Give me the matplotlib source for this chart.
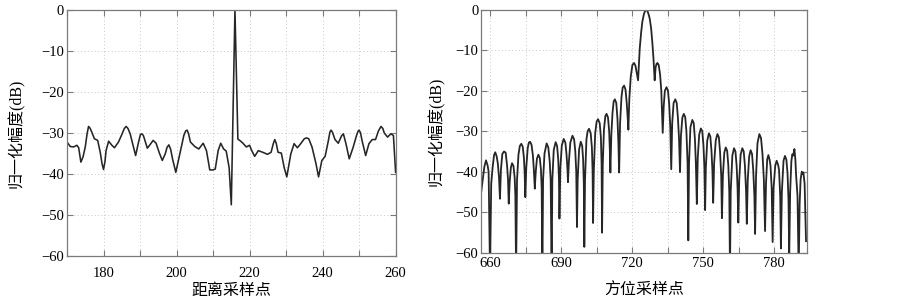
import matplotlib
matplotlib.use("Agg")
import matplotlib.pyplot as plt

# range profile (距离向)
range_x = [170.0, 170.9, 171.8, 172.7, 173.2, 173.8, 174.4, 175.0, 175.5, 175.9, 176.3,
           176.8, 177.5, 178.4, 179.1, 179.6, 180.0, 180.4, 180.7, 181.4, 182.3, 183.0,
           184.1, 185.0, 185.7, 186.2, 186.7, 187.3, 188.2, 188.8, 189.5, 190.1, 190.5,
           190.9, 191.2, 192.0, 192.7, 193.6, 194.4, 195.3, 196.1, 196.9, 197.4, 197.9,
           198.4, 198.9, 199.8, 200.9, 202.0, 202.5, 202.9, 203.3, 203.8, 205.0, 206.1,
           207.3, 208.2, 209.1, 210.0, 210.6, 211.4, 212.1, 212.9, 213.6, 214.4, 215.0,
           216.0, 216.8, 217.3, 218.2, 219.1, 220.0, 220.6, 221.4, 222.4, 223.6, 224.9,
           225.9, 226.5, 226.9, 227.3, 227.8, 228.7, 229.5, 230.2, 231.3, 232.2, 233.1,
           234.1, 235.0, 235.6, 236.2, 237.1, 238.2, 238.9, 239.8, 240.7, 241.6, 242.0,
           242.3, 242.7, 243.4, 244.3, 245.2, 245.7, 246.4, 247.3, 248.4, 249.3, 249.7,
           250.0, 250.4, 250.8, 251.8, 252.7, 253.6, 254.5, 255.3, 256.0, 256.5, 256.9,
           257.8, 258.7, 259.4, 260.0]
range_db = [-32.2, -33.3, -33.4, -33.0, -33.6, -37.1, -35.8, -33.4, -30.2, -28.4, -28.8,
            -29.8, -31.4, -31.8, -34.7, -37.5, -38.9, -37.0, -34.3, -32.0, -33.0, -33.6,
            -32.2, -30.4, -28.9, -28.4, -28.9, -30.2, -33.4, -35.5, -32.6, -30.4, -30.2,
            -30.6, -31.4, -33.7, -32.9, -31.8, -32.5, -34.9, -36.7, -35.1, -33.5, -32.9,
            -34.0, -36.3, -39.6, -35.1, -30.6, -29.5, -29.3, -30.2, -32.2, -33.3, -33.9,
            -32.5, -34.3, -39.0, -39.0, -38.8, -34.3, -32.5, -33.9, -34.4, -38.4, -47.5,
            0.0, -31.5, -31.8, -32.5, -33.4, -33.0, -34.3, -35.7, -34.3, -34.7, -35.2,
            -34.7, -32.6, -31.6, -32.5, -34.7, -34.9, -38.5, -40.7, -35.1, -32.6, -33.6,
            -32.5, -31.4, -31.2, -31.4, -33.4, -37.5, -40.7, -36.7, -35.7, -31.8, -29.8,
            -29.3, -29.8, -31.6, -32.5, -30.7, -30.2, -32.6, -36.3, -33.4, -30.6, -29.6,
            -29.3, -30.0, -31.8, -35.5, -32.6, -31.6, -31.6, -29.5, -28.4, -28.9, -30.0,
            -31.0, -30.2, -30.6, -39.6]

# azimuth profile (方位向)
azimuth_x = [656.0, 656.9, 657.6, 658.3, 659.0, 659.4, 660.0,
             660.5, 661.1, 661.7, 662.2, 662.8, 663.3, 663.8, 664.2,
             664.6, 665.2, 665.9, 666.6, 667.2, 667.6, 667.9,
             668.3, 668.8, 669.3, 669.9, 670.4, 670.7, 671.0,
             671.4, 672.0, 672.6, 673.2, 673.8, 674.3, 674.6, 674.9,
             675.3, 675.9, 676.4, 676.9, 677.5, 678.1, 678.5, 678.9,
             679.3, 679.8, 680.4, 681.0, 681.5, 681.8, 682.1,
             682.4, 683.0, 683.9, 684.6, 685.2, 685.6, 686.0,
             686.3, 686.9, 687.7, 688.3, 688.8, 689.1, 689.3,
             689.7, 690.3, 691.1, 691.8, 692.3, 692.7, 692.9,
             693.3, 693.9, 694.8, 695.5, 696.0, 696.4, 696.7,
             697.0, 697.6, 698.3, 698.9, 699.3, 699.6, 699.8,
             700.1, 700.7, 701.2, 701.8, 702.5, 703.0, 703.3, 703.5,
             703.8, 704.4, 705.0, 705.6, 706.3, 706.8, 707.1, 707.3,
             707.6, 708.1, 708.7, 709.2, 709.8, 710.3, 710.6, 710.8,
             711.2, 711.7, 712.2, 712.7, 713.3, 713.8, 714.2, 714.5,
             714.9, 715.5, 716.0, 716.6, 717.2, 717.7, 718.1, 718.4,
             718.8, 719.4, 720.1, 720.8, 721.4, 721.9, 722.5,
             723.2, 723.8, 724.3, 725.0, 725.6, 726.0, 726.5, 727.0, 727.4, 728.0, 728.5,
             729.0, 729.5,
             729.9, 730.3, 730.7, 731.2, 731.8, 732.3, 732.9,
             733.3, 733.8, 734.5, 735.1, 735.6, 736.1, 736.5,
             736.9, 737.5, 738.2, 738.8, 739.3, 739.8, 740.2,
             740.6, 741.2, 741.8, 742.4, 742.9, 743.4, 743.7,
             744.0, 744.6, 745.4, 746.0, 746.5, 746.9, 747.3,
             747.7, 748.3, 749.0, 749.6, 750.1, 750.5, 750.8,
             751.1, 751.7, 752.4, 753.0, 753.5, 753.9, 754.2,
             754.6, 755.3, 756.0, 756.6, 757.1, 757.6, 757.9,
             758.3, 758.9, 759.5, 760.1, 760.6, 761.0, 761.3,
             761.6, 762.3, 763.0, 763.6, 764.1, 764.5, 764.8,
             765.2, 765.8, 766.5, 767.1, 767.6, 768.1, 768.4,
             768.8, 769.4, 770.0, 770.6, 771.1, 771.6, 771.9,
             772.3, 772.9, 773.7, 774.4, 775.0, 775.6, 776.1,
             776.5, 777.0, 777.5, 778.0, 778.4, 778.9, 779.3,
             779.7, 780.4, 781.0, 781.6, 782.0, 782.5, 782.8,
             783.2, 783.9, 784.5, 785.1, 785.6, 786.0, 786.3,
             786.7, 787.2, 787.6, 788.0, 788.5, 788.9, 789.2, 789.8, 790.3,
             790.7, 791.1, 791.6, 792.0, 792.3, 792.8, 793.4]
azimuth_db = [-46.3, -42.2, -38.8, -37.2, -38.5, -40.0, -65.0,
              -43.0, -38.9, -35.9, -35.2, -36.2, -38.0, -41.5, -46.7,
              -39.5, -35.6, -35.0, -35.3, -38.5, -42.0, -47.9,
              -42.5, -39.0, -37.9, -38.6, -41.5, -46.0, -65.0,
              -42.0, -35.8, -33.6, -33.1, -33.8, -36.5, -40.0, -46.3,
              -39.0, -34.2, -32.8, -32.6, -33.3, -36.0, -39.5, -44.2,
              -40.0, -36.8, -35.8, -36.6, -39.5, -44.0, -65.0,
              -42.0, -35.5, -33.0, -34.0, -37.5, -42.0, -65.0,
              -42.0, -34.6, -32.7, -33.6, -37.0, -42.0, -51.6,
              -39.0, -33.5, -31.9, -32.8, -35.8, -39.5, -42.6,
              -37.5, -32.8, -31.1, -32.0, -35.0, -40.0, -53.7,
              -42.0, -34.5, -32.6, -33.6, -37.0, -43.0, -58.6,
              -42.0, -32.0, -30.0, -29.4, -30.5, -34.0, -40.0, -52.7,
              -40.0, -30.5, -27.6, -27.0, -28.0, -31.5, -38.0, -55.1,
              -38.0, -29.5, -26.2, -25.7, -26.6, -30.0, -35.0, -40.2,
              -31.0, -25.5, -22.6, -22.1, -23.0, -27.0, -33.0, -40.2,
              -28.0, -21.5, -19.2, -18.7, -19.7, -23.0, -26.5, -29.6,
              -22.0, -16.5, -13.6, -13.1, -13.8, -15.5, -17.4,
              -9.5, -5.5, -2.9, -0.9, -0.1, 0.0, -0.3, -1.2, -2.1, -4.5, -7.9,
              -12.0, -17.4,
              -14.2, -13.3, -13.1, -13.6, -16.0, -20.0, -30.4,
              -24.0, -20.0, -19.1, -19.9, -23.0, -29.0, -39.4,
              -28.0, -23.0, -22.1, -23.0, -26.5, -32.0, -40.1,
              -31.0, -26.6, -25.7, -26.5, -30.0, -38.0, -57.0,
              -38.0, -29.0, -27.2, -28.0, -32.0, -38.0, -48.0,
              -36.5, -30.8, -29.3, -30.0, -33.5, -39.0, -49.5,
              -39.0, -32.3, -30.5, -31.3, -35.0, -40.0, -47.7,
              -38.0, -32.2, -30.7, -31.5, -35.0, -41.0, -51.5,
              -41.0, -35.3, -34.0, -34.8, -38.5, -45.0, -65.0,
              -45.0, -36.0, -34.2, -35.0, -38.5, -44.0, -52.6,
              -42.0, -35.8, -34.2, -35.0, -38.5, -45.0, -52.9,
              -42.0, -36.2, -34.7, -35.6, -39.5, -46.0, -55.4,
              -41.0, -33.0, -30.7, -31.7, -35.5, -42.0, -54.7,
              -43.0, -37.0, -35.9, -37.0, -38.5, -44.0, -57.4,
              -44.0, -38.5, -37.3, -38.3, -39.5, -46.0, -59.0,
              -45.0, -37.3, -36.1, -37.0, -40.5, -47.0, -61.0,
              -45.0, -37.5, -35.7, -36.0, -34.4, -37.0, -40.8, -46.0, -65.0,
              -48.0, -42.0, -40.0, -40.5, -40.2, -43.0, -57.2]

plt.rcParams['font.family'] = ['Liberation Serif', 'Noto Sans CJK SC']
plt.rcParams['axes.unicode_minus'] = True

line_color = '#262626'
box_color = '#7a7a7a'
cjk = ['Noto Sans CJK SC', 'DejaVu Sans']
ylabel_font = ['Liberation Serif', 'Noto Sans CJK SC']

fig = plt.figure(figsize=(9.03, 3.01), dpi=100)
ax1 = fig.add_axes([0.0742, 0.1495, 0.3643, 0.8173])
ax2 = fig.add_axes([0.5327, 0.1611, 0.3607, 0.8056])


def style_axes(ax, xpad):
    ax.set_ylim(-60, 0)
    ax.set_yticks(range(-60, 1, 10))
    ax.grid(True, linestyle=(0, (1, 2.5)), color='#c8c8c8', linewidth=0.7)
    ax.tick_params(direction='in', top=True, right=True, length=4,
                   color=box_color, labelsize=10.5, width=0.8)
    ax.tick_params(axis='x', pad=xpad)
    ax.tick_params(axis='y', pad=2)
    for s in ax.spines.values():
        s.set_color(box_color)
        s.set_linewidth(0.9)


ax1.plot(range_x, range_db, color=line_color, linewidth=1.15)
ax1.set_xlim(170, 260.1)
ax1.set_xticks(range(170, 261, 10))
ax1.set_xticklabels(['', '180', '', '200', '', '220', '', '240', '', '260'])
style_axes(ax1, 8)
ax1.set_xlabel('距离采样点', family=cjk, fontsize=11.5)
ax1.set_ylabel('归一化幅度(dB)', family=ylabel_font, fontsize=11.5)
ax1.xaxis.set_label_coords(0.5, -0.106)
ax1.yaxis.set_label_coords(-0.128, 0.5)

ax2.plot(azimuth_x, azimuth_db, color=line_color, linewidth=1.3)
ax2.set_xlim(656.2, 793.7)
ax2.set_xticks(range(660, 781, 15))
ax2.set_xticklabels(['660', '', '690', '', '720', '', '750', '', '780'])
style_axes(ax2, 3)
ax2.set_xlabel('方位采样点', family=cjk, fontsize=11.5)
ax2.set_ylabel('归一化幅度(dB)', family=ylabel_font, fontsize=11.5)
ax2.xaxis.set_label_coords(0.5, -0.122)
ax2.yaxis.set_label_coords(-0.11, 0.5)

fig.savefig('out.png', dpi=100)
plt.close(fig)
